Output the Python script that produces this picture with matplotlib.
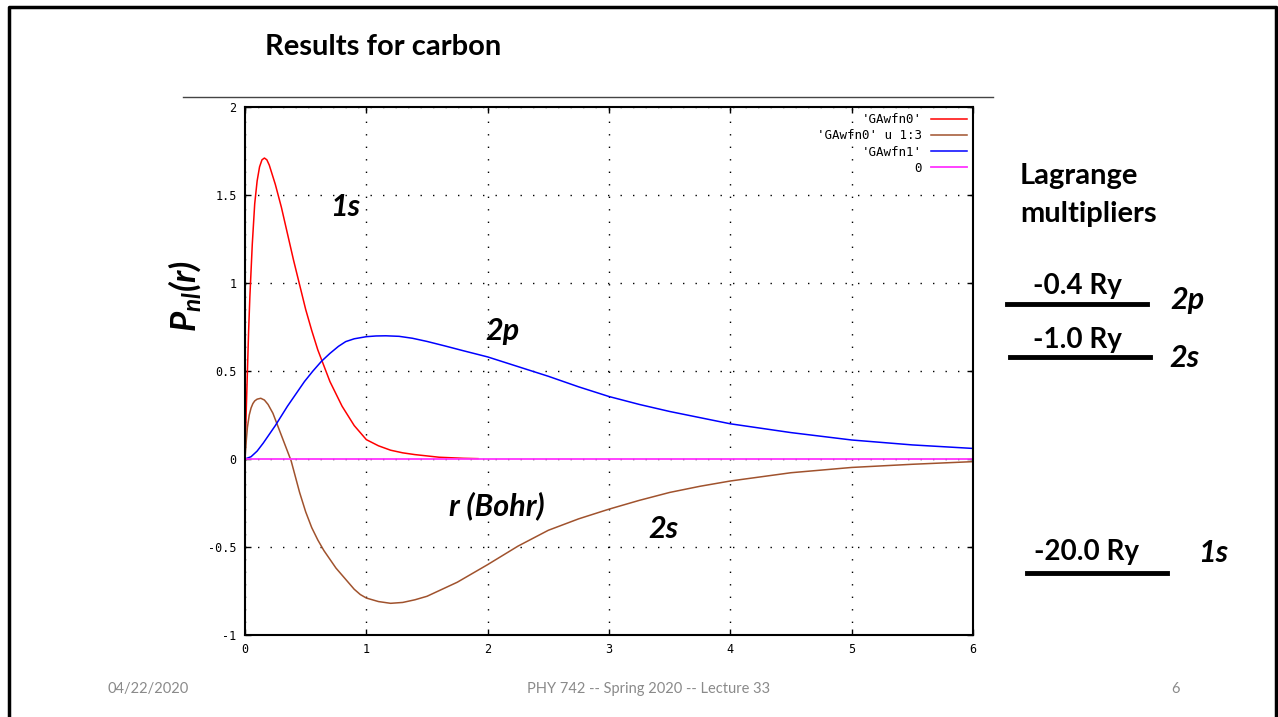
import matplotlib
matplotlib.use("Agg")
import matplotlib.pyplot as plt
from matplotlib.lines import Line2D

plt.rcParams["mathtext.fontset"] = "custom"
plt.rcParams["mathtext.it"] = "Lato:bold:italic"
plt.rcParams["mathtext.rm"] = "Lato:bold:italic"

# radial functions
r_1s = [0, 0.01, 0.02, 0.03, 0.04, 0.06, 0.08, 0.1, 0.12, 0.14, 0.16, 0.18, 0.2, 0.25, 0.3,
        0.35, 0.4, 0.45, 0.5, 0.55, 0.6, 0.65, 0.7, 0.75, 0.8, 0.9, 1.0, 1.1, 1.2, 1.3,
        1.4, 1.6, 1.8, 1.92]
p_1s = [0, 0.27, 0.50, 0.73, 0.92, 1.22, 1.45, 1.58, 1.66, 1.70, 1.71, 1.70, 1.67, 1.56,
        1.43, 1.28, 1.13, 0.99, 0.85, 0.73, 0.62, 0.53, 0.44, 0.37, 0.30, 0.19, 0.11,
        0.075, 0.05, 0.035, 0.025, 0.01, 0.004, 0.002]

r_2s = [0, 0.01, 0.02, 0.035, 0.05, 0.065, 0.08, 0.1, 0.13, 0.16, 0.19, 0.23, 0.28, 0.33,
        0.38, 0.45, 0.5, 0.55, 0.6, 0.65, 0.7, 0.75, 0.8, 0.85, 0.9, 0.95, 1.0, 1.1, 1.2,
        1.3, 1.4, 1.5, 1.75, 2.0, 2.25, 2.5, 2.75, 3.0, 3.25, 3.5, 3.75, 4.0, 4.5, 5.0,
        5.5, 6.0]
p_2s = [0, 0.10, 0.18, 0.25, 0.29, 0.315, 0.33, 0.34, 0.345, 0.335, 0.31, 0.26, 0.17,
        0.08, -0.01, -0.19, -0.30, -0.39, -0.46, -0.52, -0.57, -0.62, -0.66, -0.70,
        -0.74, -0.77, -0.79, -0.81, -0.82, -0.815, -0.80, -0.78, -0.70, -0.60, -0.495,
        -0.405, -0.34, -0.285, -0.235, -0.19, -0.155, -0.125, -0.078, -0.048, -0.03,
        -0.015]

r_2p = [0, 0.05, 0.1, 0.15, 0.2, 0.25, 0.3, 0.35, 0.42, 0.49, 0.56, 0.63, 0.7, 0.77, 0.83,
        0.9, 1.0, 1.08, 1.16, 1.27, 1.38, 1.5, 1.65, 1.8, 2.0, 2.25, 2.5, 2.75, 3.0, 3.25,
        3.5, 3.75, 4.0, 4.5, 5.0, 5.5, 6.0]
p_2p = [0, 0.013, 0.045, 0.09, 0.14, 0.19, 0.245, 0.30, 0.37, 0.44, 0.50, 0.555, 0.60,
        0.64, 0.667, 0.683, 0.695, 0.699, 0.70, 0.697, 0.686, 0.668, 0.642, 0.615, 0.58,
        0.525, 0.47, 0.41, 0.355, 0.31, 0.27, 0.235, 0.20, 0.15, 0.108, 0.08, 0.06]

r_zero = [0, 6]
p_zero = [0, 0]

legend_labels = ["'GAwfn0'", "'GAwfn0' u 1:3", "'GAwfn1'", "0"]
level_labels = ["-0.4 Ry", "-1.0 Ry", "-20.0 Ry"]
level_orbitals = ["2p", "2s", "1s"]

W, H = 1278, 717
fig = plt.figure(figsize=(W / 100, H / 100), dpi=100)


def fx(x):
    return x / W


def fy(y):
    return 1 - y / H


slide = "Lato"
mono = "DejaVu Sans Mono"

ax = fig.add_axes([fx(245), fy(635), fx(973) - fx(245), fy(107) - fy(635)])
ax.plot(r_1s, p_1s, color="#ff0000", lw=1.1, label=legend_labels[0])
ax.plot(r_2s, p_2s, color="#a0522d", lw=1.1, label=legend_labels[1])
ax.plot(r_2p, p_2p, color="#0000ff", lw=1.1, label=legend_labels[2])
ax.plot(r_zero, p_zero, color="#ff33ff", lw=1.3, label=legend_labels[3])
ax.set_xlim(0, 6)
ax.set_ylim(-1, 2)
ax.set_xticks([0, 1, 2, 3, 4, 5, 6])
ax.set_yticks([-1, -0.5, 0, 0.5, 1, 1.5, 2])
ax.set_xticklabels(["0", "1", "2", "3", "4", "5", "6"])
ax.set_yticklabels(["-1", "-0.5", "0", "0.5", "1", "1.5", "2"])
ax.tick_params(direction="in", top=True, right=True, length=4, width=1,
               labelsize=8.5, pad=6)
for lab in ax.get_xticklabels() + ax.get_yticklabels():
    lab.set_family(mono)
ax.grid(True, color="black", linestyle=(0, (1, 8)), lw=1)
for s in ax.spines.values():
    s.set_linewidth(1.5)

leg = ax.legend(loc="upper right", frameon=False, markerfirst=False, handlelength=2.9,
                prop={"family": mono, "size": 9}, labelspacing=0.25,
                borderaxespad=0.2, handletextpad=0.7, borderpad=0.3)
for t in leg.get_texts():
    t.set_ha("right")

# slide decorations
fig.text(fx(265), fy(47), "Results for carbon", family=slide, weight="bold",
         fontsize=21, ha="left", va="center")
fig.add_artist(Line2D([fx(183), fx(993)], [fy(97), fy(97)], color="#444444", lw=1))
fig.add_artist(Line2D([fx(9), fx(9), fx(1276), fx(1276)],
                      [fy(730), fy(7), fy(7), fy(730)], color="black", lw=2.5))

fig.text(fx(185), fy(296), "$P_{nl}(r)$", rotation=90, fontsize=25,
         ha="center", va="center")

big = dict(family=slide, weight="bold", style="italic", fontsize=22,
           ha="center", va="center")
fig.text(fx(345), fy(207), "1s", **big)
fig.text(fx(503), fy(331), "2p", **big)
fig.text(fx(497), fy(506), "r (Bohr)", **big)
fig.text(fx(663), fy(529), "2s", **big)

fig.text(fx(1020), fy(176), "Lagrange", family=slide, weight="bold", fontsize=21,
         ha="left", va="center")
fig.text(fx(1020), fy(214), "multipliers", family=slide, weight="bold", fontsize=21,
         ha="left", va="center")

label_xy = [(1077, 286), (1077, 340), (1087, 552)]
bar_xy = [(1007, 1147, 304), (1010, 1150, 357), (1027, 1167, 573)]
orb_xy = [(1188, 300), (1184, 358), (1213, 553)]
for i in range(3):
    fig.text(fx(label_xy[i][0]), fy(label_xy[i][1]), level_labels[i], family=slide,
             weight="bold", fontsize=20, ha="center", va="center")
    x0, x1, yy = bar_xy[i]
    fig.add_artist(Line2D([fx(x0), fx(x1)], [fy(yy), fy(yy)], color="black", lw=3.5))
    fig.text(fx(orb_xy[i][0]), fy(orb_xy[i][1]), level_orbitals[i], **big)

foot = dict(family=slide, fontsize=10.5, color="#8a8a8a", ha="center", va="center")
fig.text(fx(148), fy(689), "04/22/2020", **foot)
fig.text(fx(649), fy(689), "PHY 742 -- Spring 2020 -- Lecture 33", **foot)
fig.text(fx(1176), fy(689), "6", **foot)

fig.savefig("out.png", dpi=100)
